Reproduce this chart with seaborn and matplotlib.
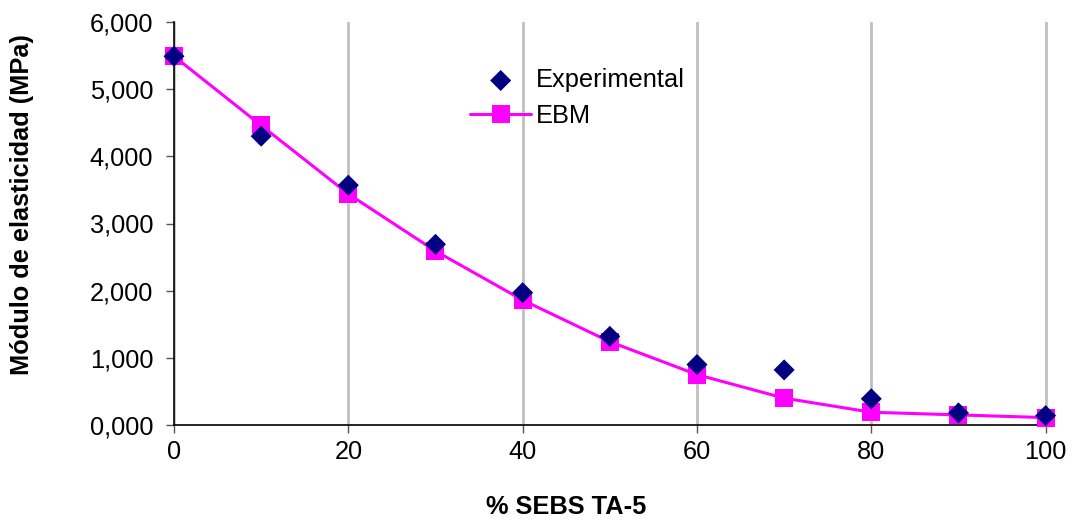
import numpy as np
import pandas as pd
import matplotlib
matplotlib.use("Agg")
import matplotlib.pyplot as plt
import seaborn as sns
from matplotlib.ticker import FuncFormatter

# data
sebs = [0, 10, 20, 30, 40, 50, 60, 70, 80, 90, 100]
experimental = [5.49, 4.30, 3.57, 2.69, 1.97, 1.32, 0.90, 0.82, 0.39, 0.18, 0.14]
ebm = [5.49, 4.46, 3.44, 2.59, 1.86, 1.24, 0.75, 0.40, 0.19, 0.15, 0.11]

sns.set_style("white")
plt.rcParams['font.family'] = ['Liberation Sans', 'DejaVu Sans']
plt.rcParams['text.color'] = 'black'
plt.rcParams['axes.labelcolor'] = 'black'
plt.rcParams['xtick.color'] = 'black'
plt.rcParams['ytick.color'] = 'black'

df = pd.DataFrame({'x': sebs, 'exp': experimental, 'ebm': ebm})
fs = 18.3

fig = plt.figure(figsize=(10.72, 5.21), dpi=100)
ax = fig.add_axes([174/1072, 96/521, (1050-174)/1072, (425-22)/521])

sns.scatterplot(data=df, x='x', y='exp', ax=ax, marker='D', s=115, color='#000080',
                edgecolor='none', label='Experimental', zorder=4, clip_on=False)
sns.lineplot(data=df, x='x', y='ebm', ax=ax, color='#ff00ff', linewidth=2.2,
             marker='s', markersize=13, markeredgewidth=0, label='EBM', zorder=3, clip_on=False)

ax.set_xlim(0, 100.5)
ax.set_ylim(0, 6)
ax.set_xticks([0, 20, 40, 60, 80, 100])
ax.set_yticks(np.arange(0, 7, 1))
ax.yaxis.set_major_formatter(FuncFormatter(lambda v, p: f"{v:.3f}".replace('.', ',')))

ax.xaxis.grid(True, color='#c0c0c0', linewidth=2)
ax.yaxis.grid(False)
ax.set_axisbelow(True)
for s in ['top', 'right']:
    ax.spines[s].set_visible(False)
for s in ['left', 'bottom']:
    ax.spines[s].set_color('black')
    ax.spines[s].set_linewidth(1.2)

ax.tick_params(axis='both', which='both', direction='out', length=6, width=1,
               color='#555555', labelsize=fs, bottom=True, left=True)
ax.tick_params(axis='y', pad=9)
ax.tick_params(axis='x', pad=5)

ax.set_xlabel('% SEBS TA-5', fontsize=fs, fontweight='bold')
ax.set_ylabel('Módulo de elasticidad (MPa)', fontsize=fs, fontweight='bold')
# label centres as placed in the original
ax.xaxis.set_label_coords(0.4475, -0.2035, transform=ax.transAxes)
ax.xaxis.label.set_va('center')
ax.yaxis.set_label_coords(-0.1735, 0.548, transform=ax.transAxes)
ax.yaxis.label.set_va('center')

h, l = ax.get_legend_handles_labels()
ax.legend(h, l, loc='upper left', bbox_to_anchor=(460/1072, 1 - 58/521),
          bbox_transform=fig.transFigure, frameon=False, fontsize=fs,
          handlelength=2.4, handletextpad=0.2, borderaxespad=0, labelspacing=0.45)

fig.savefig('out.png', dpi=100)
